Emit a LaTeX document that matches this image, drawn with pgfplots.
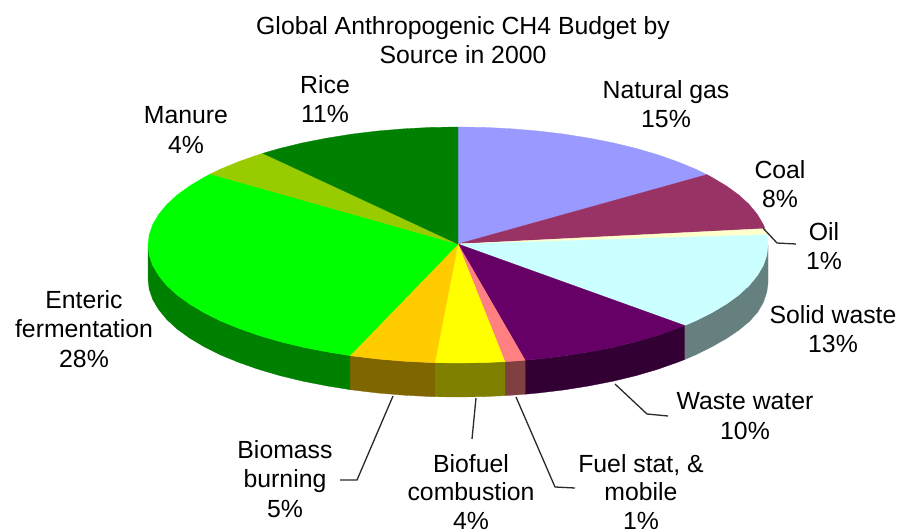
\documentclass[border=0pt]{standalone}
\usepackage{fontspec}
\setmainfont{Liberation Sans}
\usepackage{pgfplots}
\pgfplotsset{compat=1.18}
\definecolor{cGas}{HTML}{9999FF}
\definecolor{cCoal}{HTML}{993366}
\definecolor{cOil}{HTML}{FFFFCC}
\definecolor{cSolid}{HTML}{CCFFFF}
\definecolor{cSolidS}{HTML}{668080}
\definecolor{cWater}{HTML}{660066}
\definecolor{cWaterS}{HTML}{330033}
\definecolor{cFuel}{HTML}{FF8080}
\definecolor{cFuelS}{HTML}{804040}
\definecolor{cBiofuel}{HTML}{FFFF00}
\definecolor{cBiofuelS}{HTML}{808000}
\definecolor{cBiomass}{HTML}{FFCC00}
\definecolor{cBiomassS}{HTML}{806600}
\definecolor{cEnteric}{HTML}{00FF00}
\definecolor{cEntericS}{HTML}{008000}
\definecolor{cManure}{HTML}{99CC00}
\definecolor{cRice}{HTML}{008000}
\definecolor{cLead}{HTML}{2A2A2A}
\tikzset{
  slicelabel/.style={font=\fontsize{24.8}{29.7}\selectfont, align=center, text=black, inner sep=0pt},
  tightlabel/.style={slicelabel, font=\fontsize{24.8}{28.4}\selectfont},
  wedge/.style={fill=#1, draw=#1, line width=0.3pt},
}
\begin{document}
\begin{tikzpicture}
\useasboundingbox (0,0) rectangle (897pt,531pt);
\begin{axis}[
  at={(0,0)}, anchor=south west,
  scale only axis, width=897pt, height=531pt,
  xmin=0, xmax=897, ymin=0, ymax=531, y dir=reverse,
  hide axis, clip=false,
]
% rim walls of the front half, lower edge about 34 units below the upper edge
\addplot[wedge=cSolidS] coordinates {(768,245)(766.8,255.3)(763.3,265.5)(757.4,275.5)(749.3,285.4)(739,294.9)(726.5,304)(711.9,312.7)(695.5,320.9)(684.7,325.5)
 (684.7,359.5)(695.5,354.9)(711.9,346.7)(726.5,338.5)(739,330)(749.3,321.5)(757.4,312.5)(763.3,302.5)(766.8,292)(768,283)} --cycle;
\addplot[wedge=cWaterS] coordinates {(684.7,325.5)(677.2,328.4)(657.3,335.4)(635.8,341.7)(613,347.2)(589,351.9)(564,355.9)(538.2,359)(525.1,360.2)
 (525.1,394.2)(538.2,393)(564,389.9)(589,385.9)(613,381.2)(635.8,375.7)(657.3,369.4)(677.2,362.4)(684.7,359.5)} --cycle;
\addplot[wedge=cFuelS] coordinates {(525.1,360.2)(511.8,361.2)(504.9,361.6)(504.9,395.6)(511.8,395.2)(525.1,394.2)} --cycle;
\addplot[wedge=cBiofuelS] coordinates {(504.9,361.6)(485,362.6)(458,363)(434.8,362.7)(434.8,396.7)(458,397)(485,396.6)(504.9,395.6)} --cycle;
\addplot[wedge=cBiomassS] coordinates {(434.8,362.7)(431,362.6)(404.2,361.2)(377.8,359)(352,355.9)(349.9,355.6)
 (349.9,389.6)(352,389.9)(377.8,393)(404.2,395.2)(431,396.6)(434.8,396.7)} --cycle;
\addplot[wedge=cEntericS] coordinates {(349.9,355.6)(327,351.9)(303,347.2)(280.2,341.7)(258.7,335.4)(238.8,328.4)(220.5,320.9)(204.1,312.7)(189.5,304)(177,294.9)(166.7,285.4)(158.6,275.5)(152.7,265.5)(149.2,255.3)(148,245)
 (148,279)(149.2,289.3)(152.7,299.5)(158.6,309.5)(166.7,319.4)(177,328.9)(189.5,338)(204.1,346.7)(220.5,354.9)(238.8,362.4)(258.7,369.4)(280.2,375.7)(303,381.2)(327,385.9)(349.9,389.6)} --cycle;

% top face, one sector per source, clockwise from twelve o'clock
\addplot[wedge=cGas] coordinates {(458,244)(458,127)(485,127.4)(511.8,128.8)(538.2,131)(564,134.1)(589,138.1)(613,142.8)(635.8,148.3)(657.3,154.6)(677.2,161.6)(695.5,169.1)(706.9,174.6)} --cycle;
\addplot[wedge=cCoal] coordinates {(458,244)(706.9,174.6)(711.9,177.3)(726.5,186)(739,195.1)(749.3,204.6)(757.4,214.5)(763.3,224.5)(765,228.6)} --cycle;
\addplot[wedge=cOil] coordinates {(458,244)(765,228.6)(766.8,234.7)} --cycle;
\addplot[wedge=cSolid] coordinates {(458,244)(766.8,234.7)(768,245)(766.8,255.3)(763.3,265.5)(757.4,275.5)(749.3,285.4)(739,294.9)(726.5,304)(711.9,312.7)(695.5,320.9)(684.7,325.5)} --cycle;
\addplot[wedge=cWater] coordinates {(458,244)(684.7,325.5)(677.2,328.4)(657.3,335.4)(635.8,341.7)(613,347.2)(589,351.9)(564,355.9)(538.2,359)(525.1,360.2)} --cycle;
\addplot[wedge=cFuel] coordinates {(458,244)(525.1,360.2)(511.8,361.2)(504.9,361.6)} --cycle;
\addplot[wedge=cBiofuel] coordinates {(458,244)(504.9,361.6)(485,362.6)(458,363)(434.8,362.7)} --cycle;
\addplot[wedge=cBiomass] coordinates {(458,244)(434.8,362.7)(431,362.6)(404.2,361.2)(377.8,359)(352,355.9)(349.9,355.6)} --cycle;
\addplot[wedge=cEnteric] coordinates {(458,244)(349.9,355.6)(327,351.9)(303,347.2)(280.2,341.7)(258.7,335.4)(238.8,328.4)(220.5,320.9)(204.1,312.7)(189.5,304)(177,294.9)(166.7,285.4)(158.6,275.5)(152.7,265.5)(149.2,255.3)(148,245)(149.2,234.7)(152.7,224.5)(158.6,214.5)(166.7,204.6)(177,195.1)(189.5,186)(204.1,177.3)(210.4,174)} --cycle;
\addplot[wedge=cManure] coordinates {(458,244)(210.4,174)(220.5,169.1)(238.8,161.6)(258.7,154.6)(262.9,153.3)} --cycle;
\addplot[wedge=cRice] coordinates {(458,244)(262.9,153.3)(280.2,148.3)(303,142.8)(327,138.1)(352,134.1)(377.8,131)(404.2,128.8)(431,127.4)(458,127)} --cycle;

% leader lines
\addplot[cLead, line width=1.3pt] coordinates {(763,228)(777,243)(796,244)};
\addplot[cLead, line width=1.3pt] coordinates {(615,384)(647,414)(668,416)};
\addplot[cLead, line width=1.3pt] coordinates {(516,397)(555,487)(575,488)};
\addplot[cLead, line width=1.3pt] coordinates {(476,398)(472,439)};
\addplot[cLead, line width=1.3pt] coordinates {(393,396)(357,480)(340,480)};

% title and labels
\node[slicelabel] at (axis cs:463,40) {Global Anthropogenic CH4 Budget by\\Source in 2000};
\node[slicelabel] at (axis cs:325,99) {Rice\\11\%};
\node[slicelabel] at (axis cs:186,130) {Manure\\4\%};
\node[slicelabel] at (axis cs:666,104) {Natural gas\\15\%};
\node[slicelabel] at (axis cs:780,184) {Coal\\8\%};
\node[slicelabel] at (axis cs:824,246) {Oil\\1\%};
\node[slicelabel] at (axis cs:833,329) {Solid waste\\13\%};
\node[slicelabel] at (axis cs:745,416) {Waste water\\10\%};
\node[tightlabel] at (axis cs:641,492) {Fuel stat, \&\\mobile\\1\%};
\node[tightlabel] at (axis cs:471,492) {Biofuel\\combustion\\4\%};
\node[slicelabel] at (axis cs:285,479) {Biomass\\burning\\5\%};
\node[slicelabel] at (axis cs:84,329) {Enteric\\fermentation\\28\%};
\end{axis}
\end{tikzpicture}
\end{document}
